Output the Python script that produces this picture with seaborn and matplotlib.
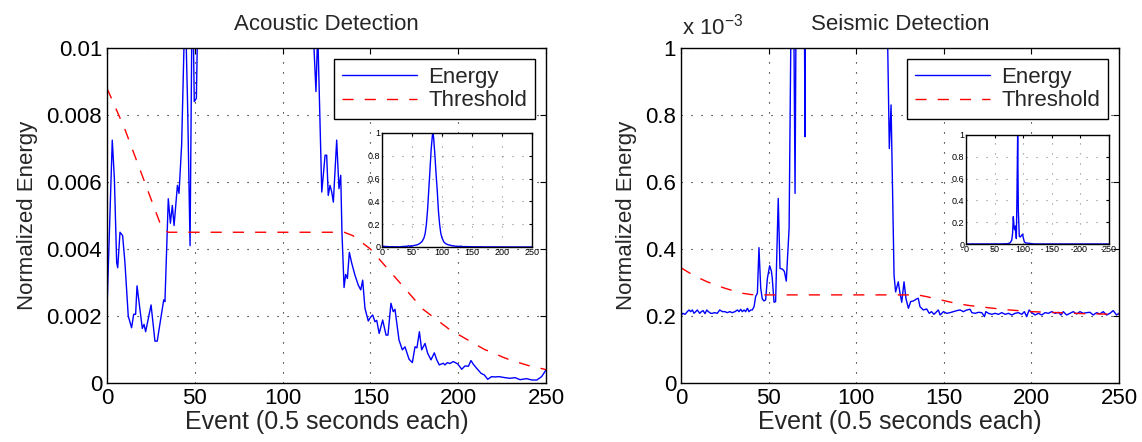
import numpy as np
import matplotlib
matplotlib.use("Agg")
import matplotlib.pyplot as plt
import seaborn as sns

# Acoustic energy (x = event index)
acoustic_event = [0, 3, 4.2, 5.5, 6.1, 7.4, 8.9, 10.2, 12.1, 14.0, 15.2, 16.3, 17.1, 18.2, 20.1, 21.1,
                  22.0, 25.1, 27.3, 28.6, 30.8, 32.3, 33.0, 34.9, 36.1, 37.2, 38.2, 40.1, 41.0, 42.5,
                  44.5, 45.9, 47.3, 48.6, 49.7, 50.9, 52, 55, 58, 61, 64, 67, 70, 72, 74, 76, 78, 80,
                  82, 84, 85, 86, 88, 90, 92, 94, 96, 98, 100, 103, 106, 110, 114, 117, 119, 120,
                  122.3, 124.2, 125.1, 126, 127, 128, 128.9, 130.8, 132.1, 133.1, 133.8, 135, 135.9,
                  136.9, 138, 139.4, 141.2, 143.1, 144.5, 145.6, 146.9, 148.8, 150, 151.3, 152.6,
                  153.6, 155, 157, 158.9, 160, 161.7, 163, 164, 166.3, 168.2, 169.7, 172, 173.9,
                  175.4, 176.5, 177.9, 179.2, 181.1, 182.6, 184.5, 186.4, 187.8, 189.2, 191.5, 192.4,
                  193.9, 195.2, 197.2, 199.7, 202, 203.9, 205.8, 207.3, 208.6, 210.5, 213, 214.9,
                  216.8, 219, 221, 223.2, 226.6, 229.5, 232.4, 235.2, 239, 241.9, 244.8, 247.5,
                  249.4, 250]
acoustic_energy = [0.0022, 0.00725, 0.0061, 0.0036, 0.00344, 0.0045, 0.0044, 0.0036, 0.0020, 0.00165,
                   0.00205, 0.00205, 0.0029, 0.00243, 0.00163, 0.00175, 0.00153, 0.00233, 0.00125,
                   0.00125, 0.00198, 0.00248, 0.00243, 0.0055, 0.00477, 0.0053, 0.0047, 0.0059,
                   0.00566, 0.0071, 0.0115, 0.0083, 0.0041, 0.0125, 0.0084, 0.0085, 0.012, 0.015,
                   0.018, 0.025, 0.035, 0.05, 0.08, 0.12, 0.2, 0.33, 0.5, 0.68, 0.86, 0.98, 1.0, 0.96,
                   0.82, 0.65, 0.5, 0.32, 0.2, 0.12, 0.08, 0.045, 0.03, 0.02, 0.015, 0.011, 0.0087,
                   0.0105, 0.0057, 0.0068, 0.0068, 0.0056, 0.0059, 0.0057, 0.0054, 0.00725, 0.0058,
                   0.0062, 0.0045, 0.00285, 0.00324, 0.00312, 0.0039, 0.00357, 0.00322, 0.00292,
                   0.00278, 0.00307, 0.00223, 0.00185, 0.00196, 0.00203, 0.00183, 0.00187, 0.00148,
                   0.00188, 0.00143, 0.00143, 0.00238, 0.00213, 0.0022, 0.00128, 0.00099, 0.00108,
                   0.00071, 0.00061, 0.00108, 0.00105, 0.00153, 0.00099, 0.00118, 0.00089, 0.00069,
                   0.0009, 0.00069, 0.00054, 0.00059, 0.00054, 0.00061, 0.00058, 0.00064, 0.00057,
                   0.00041, 0.00051, 0.0005, 0.00067, 0.00056, 0.00044, 0.00029, 0.00024, 0.00011,
                   0.00019, 0.00018, 0.00019, 0.00016, 0.00014, 0.00016, 0.0001, 0.00013, 0.00009,
                   0.00009, 0.00019, 0.00034, 0.0004]

acoustic_thr_event = [0, 5, 10, 15, 20, 25, 30, 33, 35, 135, 140, 145, 150, 155, 160, 165, 170, 175,
                      180, 185, 190, 195, 200, 205, 210, 215, 220, 225, 230, 235, 240, 245, 250]
acoustic_thr = [0.0088, 0.0082, 0.0076, 0.0069, 0.0062, 0.0055, 0.0048, 0.00455, 0.0045, 0.0045,
                0.0044, 0.0042, 0.0040, 0.0037, 0.0034, 0.0031, 0.0028, 0.0025, 0.0022, 0.0020,
                0.0018, 0.0016, 0.00145, 0.0013, 0.00115, 0.0010, 0.0009, 0.00078, 0.00068, 0.0006,
                0.00052, 0.00046, 0.0004]

# Seismic energy, in units of 1e-3
seismic_event = [0, 1.1, 2.3, 3.6, 4.6, 5.5, 6.5, 7.4, 8.4, 9.3, 10.7, 11.6, 12.6, 13.7, 14.7, 15.6,
                 17.0, 17.9, 19.2, 20.7, 22.1, 23.6, 25.0, 26.5, 27.8, 29.3, 30.8, 32.2, 33.1, 34.1,
                 35.0, 36.0, 36.9, 37.9, 38.8, 39.8, 40.7, 41.7, 42.6, 43.6, 44.5, 45.5, 46.4, 47.4,
                 48.3, 49.3, 50.6, 51.6, 52.1, 53.1, 54.0, 55.5, 56.5, 57.9, 59.0, 60.1, 61.7, 63.7,
                 65.1, 66.6, 68, 70.0, 70.8, 71.5, 74, 77, 80, 81.5, 82.7, 84, 85, 86.8, 88, 89,
                 90.3, 91.5, 93.2, 95, 97.3, 99, 100, 102, 104, 107, 110, 113, 116, 117.4, 118.9,
                 119.9, 121.6, 122.5, 124, 125, 126, 127.3, 128.4, 129.8, 131.1, 132.7, 134.5, 135.4,
                 136.4, 138.3, 140.2, 141.7, 143, 144.4, 146.9, 147.9, 149.8, 151.7, 153.6, 155.5,
                 157.4, 159.3, 161.2, 163.1, 165, 166, 167.9, 169.8, 171.7, 173.2, 174, 175.5, 177.4,
                 179.3, 181.2, 183.1, 185, 186.9, 188.8, 190.7, 192.6, 194.5, 196, 197.3, 198.7,
                 200.2, 202.1, 204, 205.9, 207.8, 209.7, 211.6, 213.5, 215.4, 216.9, 218.2, 220.1,
                 222, 223.9, 225.8, 227.7, 229.6, 231.5, 233.4, 235.3, 237.2, 239.1, 241, 242.9,
                 244.8, 246.7, 248.6, 250]
seismic_energy_milli = [0.201, 0.208, 0.205, 0.213, 0.218, 0.213, 0.218, 0.208, 0.213, 0.218, 0.208,
                        0.213, 0.216, 0.207, 0.218, 0.213, 0.208, 0.208, 0.210, 0.208, 0.218, 0.213,
                        0.213, 0.210, 0.213, 0.210, 0.213, 0.218, 0.213, 0.220, 0.213, 0.218, 0.213,
                        0.223, 0.213, 0.218, 0.218, 0.228, 0.258, 0.268, 0.404, 0.283, 0.251, 0.245,
                        0.248, 0.312, 0.350, 0.334, 0.312, 0.241, 0.243, 0.551, 0.342, 0.340, 0.333,
                        0.304, 0.462, 1.6, 0.566, 2.0, 3.0, 1.5, 0.735, 2.0, 5.0, 10.0, 35, 100, 250,
                        160, 130, 165, 50, 400, 1000, 300, 70, 65, 80, 90, 60, 20, 10, 8, 5, 3, 2.0,
                        1.2, 0.70, 0.83, 0.322, 0.272, 0.302, 0.268, 0.241, 0.302, 0.252, 0.223,
                        0.243, 0.245, 0.251, 0.253, 0.228, 0.218, 0.221, 0.208, 0.213, 0.205, 0.218,
                        0.203, 0.213, 0.208, 0.210, 0.213, 0.216, 0.218, 0.213, 0.218, 0.220, 0.210,
                        0.208, 0.211, 0.210, 0.198, 0.213, 0.208, 0.205, 0.208, 0.205, 0.210, 0.205,
                        0.208, 0.203, 0.208, 0.210, 0.205, 0.213, 0.198, 0.218, 0.210, 0.203, 0.208,
                        0.203, 0.210, 0.208, 0.213, 0.208, 0.211, 0.203, 0.213, 0.203, 0.208, 0.213,
                        0.206, 0.213, 0.208, 0.210, 0.211, 0.203, 0.210, 0.206, 0.213, 0.203, 0.208,
                        0.216, 0.203, 0.208]

seismic_thr_event = [0, 5, 10, 15, 20, 25, 30, 35, 40, 45, 135, 140, 145, 150, 155, 160, 165, 170,
                     175, 180, 185, 190, 195, 200, 210, 220, 230, 240, 250]
seismic_thr_milli = [0.344, 0.328, 0.314, 0.302, 0.292, 0.283, 0.275, 0.268, 0.264, 0.263, 0.263,
                     0.258, 0.252, 0.246, 0.240, 0.235, 0.231, 0.228, 0.225, 0.222, 0.219, 0.217,
                     0.215, 0.213, 0.211, 0.209, 0.207, 0.206, 0.205]

x_ticks = [0, 50, 100, 150, 200, 250]
acoustic_yticks = [0, 0.002, 0.004, 0.006, 0.008, 0.01]
acoustic_ylabels = ["0", "0.002", "0.004", "0.006", "0.008", "0.01"]
seismic_yticks = [0, 0.2e-3, 0.4e-3, 0.6e-3, 0.8e-3, 1e-3]
seismic_ylabels = ["0", "0.2", "0.4", "0.6", "0.8", "1"]
inset_yticks = [0, 0.2, 0.4, 0.6, 0.8, 1]
inset_ylabels = ["0", "0.2", "0.4", "0.6", "0.8", "1"]

BLUE = "#0000ff"
RED = "#ff0000"
FS = 16

sns.set_style("white")
plt.rcParams["font.family"] = ["Liberation Sans", "DejaVu Sans"]
plt.rcParams["mathtext.fontset"] = "custom"
plt.rcParams["mathtext.rm"] = "Liberation Sans"
plt.rcParams["mathtext.it"] = "Liberation Sans"

fig = plt.figure(figsize=(11.42, 4.42), dpi=100)


def matlab_box(ax, fs, lw=1.0, grid_color="black"):
    for sp in ax.spines.values():
        sp.set_visible(True)
        sp.set_color("black")
        sp.set_linewidth(lw)
    ax.tick_params(direction="in", top=True, right=True, length=4, width=0.8,
                   labelsize=fs, colors="black")
    ax.grid(True, color=grid_color, linestyle=(0, (1, 8)), linewidth=0.8)
    ax.set_axisbelow(True)


def main_panel(pos, ev, en, tev, thr, yticks, ylabels, ylim, title):
    ax = fig.add_axes(pos)
    sns.lineplot(x=ev, y=en, ax=ax, color=BLUE, linewidth=1.0, estimator=None, sort=False,
                 label="Energy")
    sns.lineplot(x=tev, y=thr, ax=ax, color=RED, linewidth=1.0, estimator=None, sort=False,
                 linestyle=(0, (8, 8)), label="Threshold")
    ax.set_xlim(0, 250)
    ax.set_ylim(*ylim)
    ax.set_xticks(x_ticks)
    ax.set_yticks(yticks)
    ax.set_yticklabels(ylabels)
    matlab_box(ax, FS)
    ax.set_title(title, fontsize=FS, pad=13)
    ax.set_xlabel("Event (0.5 seconds each)", fontsize=FS + 2, labelpad=1)
    ax.set_ylabel("Normalized Energy", fontsize=FS, labelpad=6)
    leg = ax.legend(loc="upper right", bbox_to_anchor=(0.975, 0.967), borderaxespad=0,
                    fancybox=False, edgecolor="black", framealpha=1, fontsize=FS,
                    handlelength=3.4, borderpad=0.35, labelspacing=0.12, handletextpad=0.5)
    leg.get_frame().set_linewidth(1.0)
    return ax


def inset_panel(pos, ev, en):
    ax = fig.add_axes(pos)
    sns.lineplot(x=ev, y=en, ax=ax, color=BLUE, linewidth=1.0, estimator=None, sort=False)
    ax.set_xlim(0, 250)
    ax.set_ylim(0, 1)
    ax.set_xticks(x_ticks)
    ax.set_yticks(inset_yticks)
    ax.set_yticklabels(inset_ylabels)
    matlab_box(ax, 6.5, grid_color="#888888")
    ax.tick_params(length=2, pad=1)
    ax.set_xlabel("")
    ax.set_ylabel("")
    return ax


seis_energy = np.array(seismic_energy_milli) * 1e-3
seis_thr = np.array(seismic_thr_milli) * 1e-3

main_panel([107 / 1142, 59 / 442, 439 / 1142, 335 / 442], acoustic_event, acoustic_energy,
           acoustic_thr_event, acoustic_thr, acoustic_yticks, acoustic_ylabels, (0, 0.01),
           "Acoustic Detection")
main_panel([681 / 1142, 59 / 442, 438 / 1142, 335 / 442], seismic_event, seis_energy,
           seismic_thr_event, seis_thr, seismic_yticks, seismic_ylabels, (0, 1e-3),
           "Seismic Detection")
fig.text(682 / 1142, 1 - 35 / 442, r"x 10$^{-3}$", fontsize=FS, ha="left", va="baseline")

inset_panel([382 / 1142, 195 / 442, 150 / 1142, 114 / 442], acoustic_event, acoustic_energy)
inset_panel([966 / 1142, 198 / 442, 143 / 1142, 109 / 442], seismic_event, seis_energy)

fig.savefig("out.png", dpi=100)
